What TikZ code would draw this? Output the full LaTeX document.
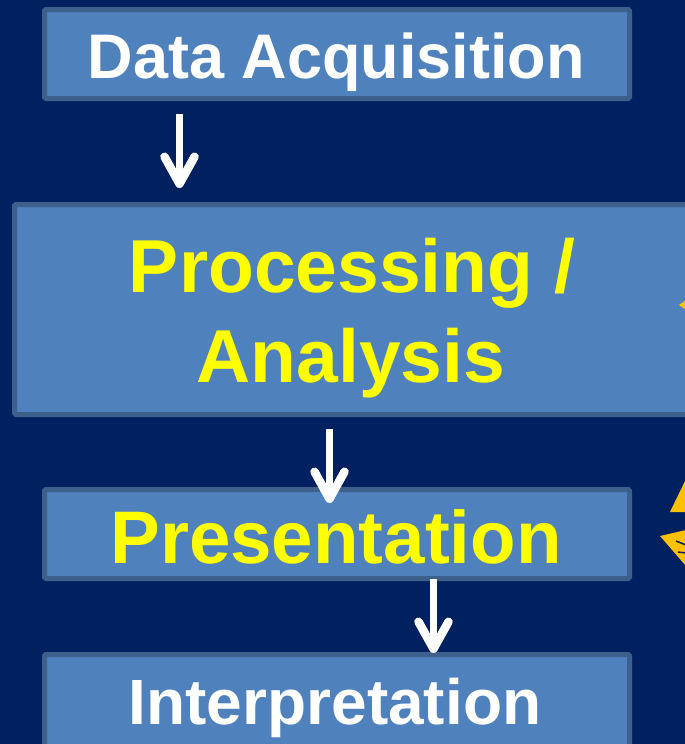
\documentclass[tikz,border=0pt]{standalone}
\usepackage{fontspec}
\setmainfont{Liberation Sans}
\usetikzlibrary{arrows.meta}
\definecolor{navy}{RGB}{0,32,96}
\definecolor{boxfill}{RGB}{79,129,189}
\definecolor{boxline}{RGB}{60,95,140}
\definecolor{hilite}{RGB}{255,255,0}
\definecolor{accent}{RGB}{255,192,0}
\tikzset{
  stagebox/.style={draw=boxline, fill=boxfill, line width=5pt, rounded corners=1.5pt},
  label/.style={anchor=base, inner sep=0pt},
  flow/.style={draw=white, line width=7pt,
    -{Straight Barb[length=27pt, width=30pt, line width=8.5pt, round]}},
}
\begin{document}
\begin{tikzpicture}[x=1pt, y=-1pt]
  \useasboundingbox (0,0) rectangle (685,744);
  \clip (0,0) rectangle (685,744);
  \fill[navy] (0,0) rectangle (685,744);

  % stage boxes
  \draw[stagebox] (44.5,9.5)   rectangle (629.5,98.5);
  \draw[stagebox] (14.5,204.5) rectangle (700,414.5);
  \draw[stagebox] (44.5,489.5) rectangle (629.5,578.5);
  \draw[stagebox] (44.5,654.5) rectangle (629.5,770);

  % stage titles
  \node[label, text=white,  font=\bfseries\fontsize{63}{75}\selectfont] (tacq)  at (336.5,78) {Data Acquisition};
  \node[label, text=hilite, font=\bfseries\fontsize{75}{90}\selectfont] (tproc) at (352,292)  {Processing /};
  \node[label, text=hilite, font=\bfseries\fontsize{75}{90}\selectfont] (tana)  at (351,382)  {Analysis};
  \node[label, text=hilite, font=\bfseries\fontsize{74.5}{90}\selectfont] (tpres) at (336,563) {Presentation};
  \node[label, text=white,  font=\bfseries\fontsize{64}{77}\selectfont] (tint)  at (335,724)  {Interpretation};

  % flow arrows between stages
  \coordinate (a1s) at (179.5,114);
  \coordinate (a1e) at (179.5,188);
  \coordinate (a2s) at (329.5,429);
  \coordinate (a2e) at (329.5,503);
  \coordinate (a3s) at (433.5,579);
  \coordinate (a3e) at (433.5,653);
  \draw[flow] (a1s) -- (a1e);
  \draw[flow] (a2s) -- (a2e);
  \draw[flow] (a3s) -- (a3e);

  % orange shapes at the right edge
  \fill[accent] (679,305) -- (686,300) -- (686,310) -- cycle;
  \fill[accent] (670,512) -- (686,479) -- (686,512) -- cycle;
  \fill[accent] (660,536) -- (686,530) -- (686,566) -- cycle;
  \draw[navy, line width=1.5pt] (676,541) -- (686,545);
  \draw[navy, line width=1.5pt] (678,552) -- (686,553);
\end{tikzpicture}
\end{document}
